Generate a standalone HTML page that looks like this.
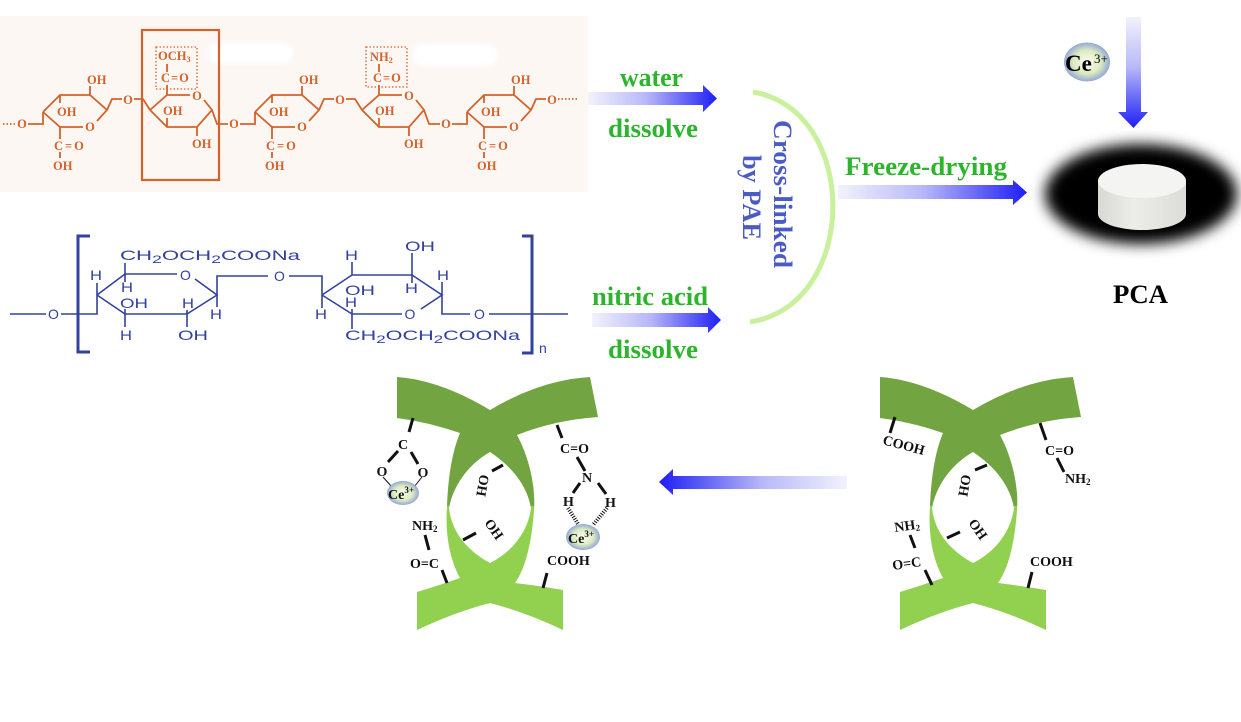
<!DOCTYPE html>
<html><head><meta charset="utf-8"><style>
html,body{margin:0;padding:0;background:#fff;}
svg{display:block;}
.os text{font-family:"Liberation Serif",serif;font-weight:bold;font-size:12.5px;fill:#d4622a;stroke:none;}
.bs text{font-family:"Liberation Sans",sans-serif;font-size:14px;fill:#33429e;stroke:none;}
.gt{font-family:"Liberation Serif",serif;font-weight:bold;font-size:26px;fill:#2db42d;}
.lab text{font-family:"Liberation Serif",serif;font-weight:bold;font-size:14px;fill:#111;}
</style></head><body>
<svg width="1241" height="722" viewBox="0 0 1241 722" xmlns="http://www.w3.org/2000/svg">
<defs>
<linearGradient id="gR" x1="0" y1="0" x2="1" y2="0"><stop offset="0" stop-color="#f2f2fc"/><stop offset="0.45" stop-color="#b8b8f8"/><stop offset="1" stop-color="#1e1ef5"/></linearGradient>
<linearGradient id="gL" x1="1" y1="0" x2="0" y2="0"><stop offset="0" stop-color="#f2f2fc"/><stop offset="0.45" stop-color="#b8b8f8"/><stop offset="1" stop-color="#1e1ef5"/></linearGradient>
<linearGradient id="gD" x1="0" y1="0" x2="0" y2="1"><stop offset="0" stop-color="#f2f2fc"/><stop offset="0.45" stop-color="#b8b8f8"/><stop offset="1" stop-color="#1e1ef5"/></linearGradient>
<linearGradient id="gx" gradientUnits="userSpaceOnUse" x1="0" y1="377" x2="0" y2="630"><stop offset="0" stop-color="#72a541"/><stop offset="0.51" stop-color="#72a541"/><stop offset="0.51" stop-color="#92d050"/><stop offset="1" stop-color="#92d050"/></linearGradient>
<radialGradient id="ce" cx="0.5" cy="0.5" r="0.5"><stop offset="0" stop-color="#fbfdf0"/><stop offset="0.6" stop-color="#dcebc0"/><stop offset="1" stop-color="#93a8d6"/></radialGradient>
<linearGradient id="side" x1="0" y1="0" x2="1" y2="0"><stop offset="0" stop-color="#d8d8d4"/><stop offset="0.4" stop-color="#ecece9"/><stop offset="1" stop-color="#dcdcd8"/></linearGradient>
<filter id="blur" x="-30%" y="-30%" width="160%" height="160%"><feGaussianBlur stdDeviation="7"/></filter>
<filter id="wb" x="-20%" y="-50%" width="140%" height="200%"><feGaussianBlur stdDeviation="2"/></filter>
</defs>
<rect width="1241" height="722" fill="#fff"/>

<!-- orange panel -->
<rect x="0" y="16" width="588" height="176" fill="#fdf7f4"/>
<rect x="207" y="43" width="86" height="20" rx="10" fill="#fff" filter="url(#wb)"/>
<rect x="413" y="44" width="84" height="22" rx="11" fill="#fff" filter="url(#wb)"/>

<g class="os" stroke="#d4622a" stroke-width="1.8" fill="none">
  <!-- ring 1 -->
  <g>
    <path d="M43,112 L60,95 L90,95 L107,110 L97,121 M83,127 L60,127 L43,112 M90,95 V86 M60,95 V103 M60,127 V139 M60,152 V158"/>
    <text x="87" y="84">OH</text><text x="57" y="116">OH</text>
    <text x="90" y="131" text-anchor="middle">O</text>
    <text x="54" y="150" letter-spacing="2">C=O</text><text x="53" y="170">OH</text>
  </g>
  <!-- ring 3 -->
  <g transform="translate(212,0)">
    <path d="M43,112 L60,95 L90,95 L107,110 L97,121 M83,127 L60,127 L43,112 M90,95 V86 M60,95 V103 M60,127 V139 M60,152 V158"/>
    <text x="87" y="84">OH</text><text x="57" y="116">OH</text>
    <text x="90" y="131" text-anchor="middle">O</text>
    <text x="54" y="150" letter-spacing="2">C=O</text><text x="53" y="170">OH</text>
  </g>
  <!-- ring 5 -->
  <g transform="translate(424,0)">
    <path d="M43,112 L60,95 L90,95 L107,110 L97,121 M83,127 L60,127 L43,112 M90,95 V86 M60,95 V103 M60,127 V139 M60,152 V158"/>
    <text x="87" y="84">OH</text><text x="57" y="116">OH</text>
    <text x="90" y="131" text-anchor="middle">O</text>
    <text x="54" y="150" letter-spacing="2">C=O</text><text x="53" y="170">OH</text>
  </g>
  <!-- ring 2 -->
  <g>
    <path d="M150,110 L167,95 H190 M204,100 L212,110 L197,127 H167 L150,110 M167,95 V85 M167,72 V64 M167,127 V118 M197,127 V136"/>
    <text x="197" y="100" text-anchor="middle">O</text>
    <text x="161" y="82" letter-spacing="1">C=O</text>
    <text x="158" y="60">OCH<tspan font-size="8" dy="2">3</tspan></text>
    <text x="163" y="115">OH</text><text x="192" y="148">OH</text>
    <rect x="156" y="47" width="41" height="42" stroke-width="1.3" stroke-dasharray="1.5 2"/>
  </g>
  <!-- ring 4 -->
  <g transform="translate(212,0)">
    <path d="M150,110 L167,95 H190 M204,100 L212,110 L197,127 H167 L150,110 M167,95 V85 M167,72 V64 M167,127 V118 M197,127 V136"/>
    <text x="197" y="100" text-anchor="middle">O</text>
    <text x="161" y="82" letter-spacing="1">C=O</text>
    <text x="158" y="61">NH<tspan font-size="8" dy="2">2</tspan></text>
    <text x="163" y="115">OH</text><text x="192" y="148">OH</text>
    <rect x="154" y="47" width="41" height="40" stroke-width="1.3" stroke-dasharray="1.5 2"/>
  </g>
  <!-- linkages -->
  <path d="M43,112 V124 H28 M107,110 L112,99 H122 M134,99 H143 L150,110 M212,110 L217,124 H228 M240,124 H255 V112 M319,110 L324,99 H334 M346,99 H355 L362,110 M424,110 L429,124 H440 M452,124 H467 V112 M531,110 L536,99 H546"/>
  <path d="M3,124 H16 M558,99 H577" stroke-dasharray="1.5 2"/>
  <text x="22" y="128" text-anchor="middle">O</text>
  <text x="128" y="104" text-anchor="middle">O</text>
  <text x="234" y="128" text-anchor="middle">O</text>
  <text x="340" y="104" text-anchor="middle">O</text>
  <text x="446" y="128" text-anchor="middle">O</text>
  <text x="552" y="104" text-anchor="middle">O</text>
  <rect x="142" y="30" width="77" height="150" stroke-width="2.2"/>
</g>

<!-- blue CMC structure -->
<g class="bs" stroke="#33429e" stroke-width="1.6" fill="none">
  <path d="M10,314 H46 M61,314 H97 V295 M97,295 L125,274 H177 M195,279 L217,295 L187,314 H125 L97,295 M217,295 V276 H268 M289,276 H322 V295 M322,295 L352,275 H412 L442,295 L421,309 M402,314 H352 L322,295 M442,282 V314 H470 M489,314 H568"/>
  <path d="M125,263 V282 M97,295 V283 M125,309 V327 M187,310 V327 M217,295 V307 M352,262 V275 M412,253 V283 M352,309 V329 M322,295 V308"/>
  <path d="M90,236 H78 V352 H90 M522,236 H532 V353 H522" stroke-width="3"/>
  <text x="53.5" y="319" text-anchor="middle">O</text>
  <text x="90" y="280" textLength="12" lengthAdjust="spacingAndGlyphs">H</text>
  <text x="120" y="260" textLength="180" lengthAdjust="spacingAndGlyphs">CH<tspan font-size="11" dy="3">2</tspan><tspan dy="-3">OCH</tspan><tspan font-size="11" dy="3">2</tspan><tspan dy="-3">COONa</tspan></text>
  <text x="185.5" y="280" text-anchor="middle">O</text>
  <text x="279.5" y="281" text-anchor="middle">O</text>
  <text x="121" y="292" textLength="12" lengthAdjust="spacingAndGlyphs">H</text>
  <text x="120" y="308" textLength="28" lengthAdjust="spacingAndGlyphs">OH</text>
  <text x="182" y="308" textLength="12" lengthAdjust="spacingAndGlyphs">H</text>
  <text x="210" y="319" textLength="12" lengthAdjust="spacingAndGlyphs">H</text>
  <text x="120" y="340" textLength="12" lengthAdjust="spacingAndGlyphs">H</text>
  <text x="178" y="340" textLength="30" lengthAdjust="spacingAndGlyphs">OH</text>
  <text x="345" y="260" textLength="13" lengthAdjust="spacingAndGlyphs">H</text>
  <text x="405" y="251" textLength="30" lengthAdjust="spacingAndGlyphs">OH</text>
  <text x="345" y="295" textLength="30" lengthAdjust="spacingAndGlyphs">OH</text>
  <text x="405" y="293" textLength="13" lengthAdjust="spacingAndGlyphs">H</text>
  <text x="437" y="280" textLength="12" lengthAdjust="spacingAndGlyphs">H</text>
  <text x="345" y="307" textLength="12" lengthAdjust="spacingAndGlyphs">H</text>
  <text x="315" y="319" textLength="12" lengthAdjust="spacingAndGlyphs">H</text>
  <text x="410" y="319" text-anchor="middle">O</text>
  <text x="345" y="340" textLength="175" lengthAdjust="spacingAndGlyphs">CH<tspan font-size="11" dy="3">2</tspan><tspan dy="-3">OCH</tspan><tspan font-size="11" dy="3">2</tspan><tspan dy="-3">COONa</tspan></text>
  <text x="479.5" y="319" text-anchor="middle">O</text>
  <text x="539" y="353" font-size="19">n</text>
</g>

<!-- middle arrows & labels -->
<polygon points="588,92 703,92 703,85 717,98.5 703,112 703,105 588,105" fill="url(#gR)"/>
<polygon points="592,313 708,313 708,307 721,320 708,333 708,327 592,327" fill="url(#gR)"/>
<text class="gt" x="620" y="86" textLength="63" lengthAdjust="spacingAndGlyphs">water</text>
<text class="gt" x="608" y="137" textLength="90" lengthAdjust="spacingAndGlyphs">dissolve</text>
<text class="gt" x="592" y="305" textLength="116" lengthAdjust="spacingAndGlyphs">nitric acid</text>
<text class="gt" x="608" y="358" textLength="90" lengthAdjust="spacingAndGlyphs">dissolve</text>
<path d="M753,92 C860,110 860,305 750,322" fill="none" stroke="#c9f09c" stroke-width="5"/>
<text transform="translate(774,120) rotate(90)" font-family="'Liberation Serif',serif" font-weight="bold" font-size="26" fill="#4a5cc4" textLength="148" lengthAdjust="spacingAndGlyphs">Cross-linked</text>
<text transform="translate(743,155) rotate(90)" font-family="'Liberation Serif',serif" font-weight="bold" font-size="26" fill="#4a5cc4" textLength="85" lengthAdjust="spacingAndGlyphs">by PAE</text>

<!-- freeze drying -->
<text class="gt" x="845" y="175" textLength="162" lengthAdjust="spacingAndGlyphs">Freeze-drying</text>
<polygon points="838,185 1013,185 1013,180 1027,192.5 1013,205 1013,199 838,199" fill="url(#gR)"/>

<!-- Ce3+ and down arrow -->
<polygon points="1126,17 1141,17 1141,112 1148,112 1133.5,128 1118,112 1126,112" fill="url(#gD)"/>
<ellipse cx="1087" cy="62" rx="23" ry="19.5" fill="url(#ce)"/>
<text x="1065" y="71" font-family="'Liberation Serif',serif" font-weight="bold" font-size="23" fill="#000">Ce</text>
<text x="1094" y="63" font-family="'Liberation Serif',serif" font-size="13" fill="#000">3+</text>

<!-- PCA photo -->
<ellipse cx="1141" cy="194" rx="96" ry="50" fill="#000" filter="url(#blur)"/>
<path d="M1098,181 L1098,214 A44,16 0 0,0 1186,214 L1186,181 Z" fill="url(#side)"/>
<ellipse cx="1142" cy="181" rx="44" ry="17" fill="#f4f4f2"/>
<text x="1113" y="303" font-family="'Liberation Serif',serif" font-weight="bold" font-size="26" fill="#000" textLength="55" lengthAdjust="spacingAndGlyphs">PCA</text>

<!-- left arrow -->
<polygon points="847,476 673,476 673,469 659,482 673,495 673,489 847,489" fill="url(#gL)"/>

<!-- crossings -->
<path fill="url(#gx)" fill-rule="evenodd" d="M397,377 Q440,380 490,410 Q540,380 590,377 L598,417 Q555,420 517,435 C528,455 536,485 534,510 C532,540 526,568 515,583 Q540,586 563,590 L563,630 Q525,612 490,603 Q455,612 417,630 L417,592 Q440,585 460,578 C450,560 445,535 447,507 C448,478 452,452 460,433 Q428,422 397,418 Z M490,452 C505,462 526,480 531,508 C528,532 512,552 490,563 C470,552 452,535 449,508 C454,482 472,462 490,452 Z"/>
<path transform="translate(483,0)" fill="url(#gx)" fill-rule="evenodd" d="M397,377 Q440,380 490,410 Q540,380 590,377 L598,417 Q555,420 517,435 C528,455 536,485 534,510 C532,540 526,568 515,583 Q540,586 563,590 L563,630 Q525,612 490,603 Q455,612 417,630 L417,592 Q440,585 460,578 C450,560 445,535 447,507 C448,478 452,452 460,433 Q428,422 397,418 Z M490,452 C505,462 526,480 531,508 C528,532 512,552 490,563 C470,552 452,535 449,508 C454,482 472,462 490,452 Z"/>

<!-- left crossing labels -->
<g class="lab">
  <g stroke="#111" stroke-width="3" fill="none">
    <path d="M413,418 L409,432 M398,451 L388,462 M411,452 L418,464 M425,535 L429,550 M442,570 L447,583 M492,471 L503,465 M463,540 L476,533 M557,425 L562,438 M577,457 L585,471 M598,483 L606,494 M580,483 L573,493 M547,573 L543,588"/>
    <path d="M383,477 L391,486 M422,477 L414,487" stroke-width="1"/>
    <path d="M568,508 L578,524 M607,508 L593,525" stroke-width="4" stroke-dasharray="1 1.5"/>
  </g>
  <text x="403" y="449" text-anchor="middle">C</text>
  <text x="382" y="476" text-anchor="middle">O</text>
  <text x="423" y="477" text-anchor="middle">O</text>
  <ellipse cx="403" cy="493" rx="16" ry="12" fill="url(#ce)"/>
  <text x="388" y="499" font-size="15">Ce<tspan font-size="9" dy="-6">3+</tspan></text>
  <text x="412" y="530">NH<tspan font-size="9" dy="2">2</tspan></text>
  <text x="410" y="568">O=C</text>
  <text transform="translate(480,474) rotate(100)">OH</text>
  <text transform="translate(484,523) rotate(55)">OH</text>
  <text x="560" y="453">C=O</text>
  <text x="582" y="482">N</text>
  <text x="605" y="507">H</text>
  <text x="563" y="506">H</text>
  <ellipse cx="583" cy="537" rx="17" ry="13" fill="url(#ce)"/>
  <text x="568" y="543" font-size="15">Ce<tspan font-size="9" dy="-6">3+</tspan></text>
  <text x="547" y="565" fill="#101830">COOH</text>
</g>

<!-- right crossing labels -->
<g class="lab">
  <g stroke="#111" stroke-width="3" fill="none">
    <path d="M895,417 L890,433 M1040,423 L1046,440 M1057,458 L1064,472 M975,470 L987,465 M910,535 L915,548 M925,570 L932,585 M947,538 L960,532 M1032,572 L1028,588"/>
  </g>
  <text transform="translate(882,444) rotate(15)">COOH</text>
  <text x="1045" y="455">C=O</text>
  <text x="1065" y="483">NH<tspan font-size="9" dy="2">2</tspan></text>
  <text transform="translate(962,474) rotate(100)">OH</text>
  <text transform="translate(968,523) rotate(55)">OH</text>
  <text transform="translate(895,532) rotate(-8)">NH<tspan font-size="9" dy="2">2</tspan></text>
  <text transform="translate(893,570) rotate(-8)">O=C</text>
  <text x="1030" y="566" fill="#101830">COOH</text>
</g>
</svg>
</body></html>
